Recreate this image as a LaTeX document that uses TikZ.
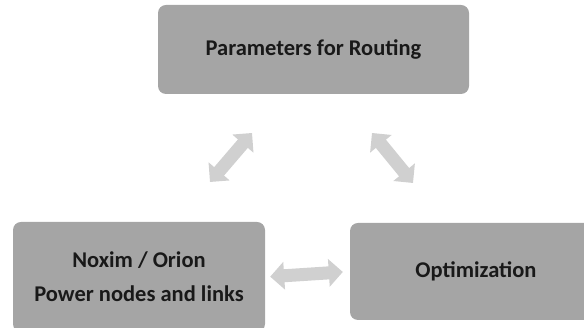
\documentclass[tikz,border=0pt]{standalone}
\usepackage{fontspec}
\setmainfont{Carlito}
\usetikzlibrary{arrows.meta}
\definecolor{boxgray}{HTML}{A5A5A5}
\definecolor{arrowgray}{HTML}{D0D0D0}
\tikzset{
  box/.style={fill=boxgray, draw=none, rounded corners=8pt, minimum width=#1, font=\fontsize{22.5}{34}\selectfont\bfseries, text=black!90, align=center},
  fat/.style={draw=arrowgray, line width=13pt, {Triangle[width=27pt,length=14pt]}-{Triangle[width=27pt,length=14pt]}}
}
\begin{document}
\begin{tikzpicture}[x=1pt,y=1pt]
\useasboundingbox (0,0) rectangle (584,328);
\clip (0,0) rectangle (584,328);
\node[box=311pt, minimum height=89pt] (top) at (313.5,278.5) {Parameters for Routing};
\node[box=252pt, minimum height=110pt] (left) at (139,51) {Noxim / Orion\\Power nodes and links};
\node[box=252pt, minimum height=97pt] (right) at (476,56.5) {Optimization};
\coordinate (lt) at (252,195);
\coordinate (lb) at (210,146);
\coordinate (rt) at (372,195);
\coordinate (rb) at (413,145);
\draw[fat] (lt) -- (lb);
\draw[fat] (rt) -- (rb);
\draw[fat, shorten <=5pt, shorten >=7pt] (left.east) -- (right.west);
\end{tikzpicture}
\end{document}
